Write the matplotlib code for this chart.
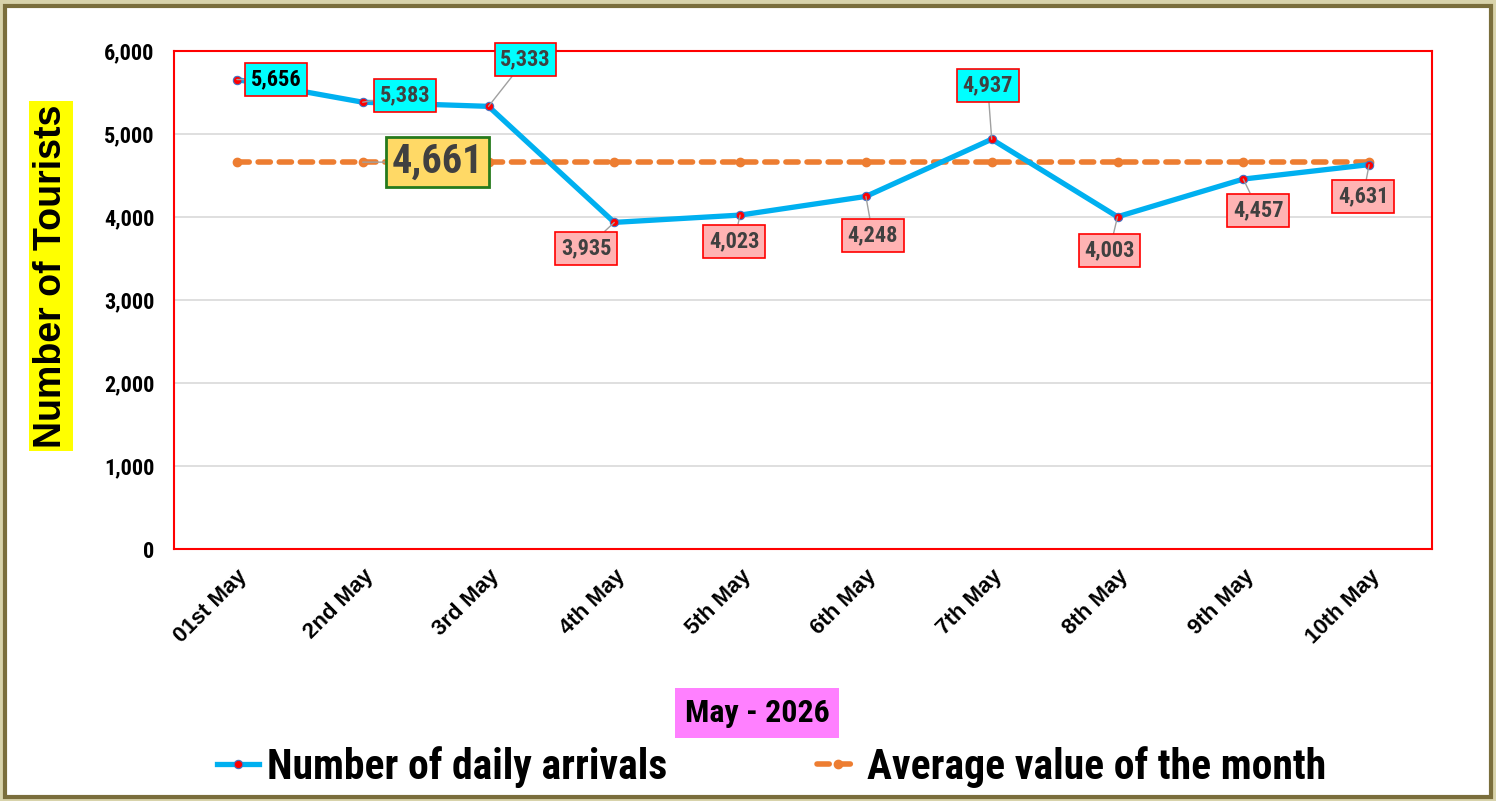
import matplotlib
matplotlib.use('Agg')
import matplotlib.pyplot as plt
from matplotlib.patches import Rectangle
from matplotlib.ticker import FuncFormatter

days = ['01st May', '2nd May', '3rd May', '4th May', '5th May',
        '6th May', '7th May', '8th May', '9th May', '10th May']
arrivals = [5656, 5383, 5333, 3935, 4023, 4248, 4937, 4003, 4457, 4631]
average = [4661] * len(days)

# label offsets in pixels (dx, dy) and box colours
offsets = [(39, 0), (42, 7), (37, 47), (-28, -26), (-6, -26),
           (7, -39), (-4, 54), (-8, -34), (15, -31), (-6, -32)]
label_fill = ['#00ffff', '#00ffff', '#00ffff', '#ffb3b3', '#ffb3b3',
              '#ffb3b3', '#00ffff', '#ffb3b3', '#ffb3b3', '#ffb3b3']
label_text = ['black'] + ['#404040'] * 9

narrow = ['Roboto Condensed', 'DejaVu Sans']
plt.rcParams['font.family'] = ['Liberation Sans', 'DejaVu Sans']

fig = plt.figure(figsize=(14.96, 8.01), dpi=100)
fig.patch.set_facecolor('#d8d3ab')
fig.patches.append(Rectangle((5 / 1496, 4 / 801), 1486 / 1496, 791 / 801,
                             transform=fig.transFigure, facecolor='white',
                             edgecolor='#7a6e3c', linewidth=3, zorder=-5))

ax = fig.add_axes([174 / 1496, 1 - 549 / 801, 1258 / 1496, 498 / 801])
ax.set_zorder(2)
ax.patch.set_alpha(0)
x = list(range(len(days)))

ax.plot(x, average, color='#ed7d31', linewidth=4, linestyle=(0, (2.2, 1.6)),
        dash_capstyle='round', marker='o', markersize=6,
        label='Average value of the month', zorder=3)
ax.plot(x, arrivals, color='#00b0f0', linewidth=3.8, marker='o', markersize=6,
        markerfacecolor='red', markeredgecolor='#4472c4', markeredgewidth=0.8,
        label='Number of daily arrivals', zorder=4)

for i, v in enumerate(arrivals):
    dx, dy = offsets[i]
    ax.annotate(f'{v:,}', (i, v), xytext=(dx, dy), textcoords='offset pixels',
                ha='center', va='center', fontsize=16, fontweight='bold',
                family=narrow, color=label_text[i], zorder=6,
                bbox=dict(boxstyle='square,pad=0.25', facecolor=label_fill[i],
                          edgecolor='red', linewidth=1.2),
                arrowprops=dict(arrowstyle='-', color='#a0a0a0', lw=1,
                                shrinkA=0, shrinkB=0))

ax.annotate(f'{average[1]:,}', (1, average[1]), xytext=(75, 0),
            textcoords='offset pixels', ha='center', va='center',
            fontsize=29, fontweight='bold', family=narrow, color='#404040',
            zorder=6,
            bbox=dict(boxstyle='square,pad=0.15', facecolor='#ffd966',
                      edgecolor='#267a1c', linewidth=2),
            arrowprops=dict(arrowstyle='-', color='#a0a0a0', lw=1,
                            shrinkA=0, shrinkB=0))

ax.set_xlim(-0.5, len(days) - 0.5)
ax.set_ylim(0, 6000)
ax.set_yticks(range(0, 6001, 1000))
ax.yaxis.set_major_formatter(FuncFormatter(lambda v, p: f'{int(v):,}'))
ax.set_xticks(x)
ax.set_xticklabels(days, rotation=45, ha='right', rotation_mode='anchor',
                   fontsize=16, fontweight='bold')
for lab in ax.get_yticklabels():
    lab.set_fontsize(16)
    lab.set_fontweight('bold')
    lab.set_family(narrow)
ax.tick_params(axis='both', length=0)
ax.tick_params(axis='y', pad=14)
ax.tick_params(axis='x', pad=12)
ax.grid(axis='y', color='#d9d9d9', linewidth=1.2)
ax.set_axisbelow(True)
for s in ax.spines.values():
    s.set_color('red')
    s.set_linewidth(1.5)

fig.text(51 / 1496, 1 - 276 / 801, 'Number of Tourists', rotation=90,
         ha='center', va='center', fontsize=27, fontweight='bold',
         bbox=dict(boxstyle='square,pad=0.1', facecolor='yellow', edgecolor='none'))
fig.text(757 / 1496, 1 - 713 / 801, 'May - 2026', ha='center', va='center',
         fontsize=23, fontweight='bold', family=narrow,
         bbox=dict(boxstyle='square,pad=0.3', facecolor='#ff80ff', edgecolor='none'))

handles, labels = ax.get_legend_handles_labels()
fig.legend(handles[::-1], labels[::-1], loc='center', ncol=2,
           bbox_to_anchor=(772 / 1496, 1 - 767 / 801), frameon=False,
           prop={'family': narrow, 'weight': 'bold', 'size': 30},
           handlelength=1.0, handletextpad=0.2, columnspacing=3.6)

fig.savefig('out.png', dpi=100, facecolor=fig.get_facecolor())
